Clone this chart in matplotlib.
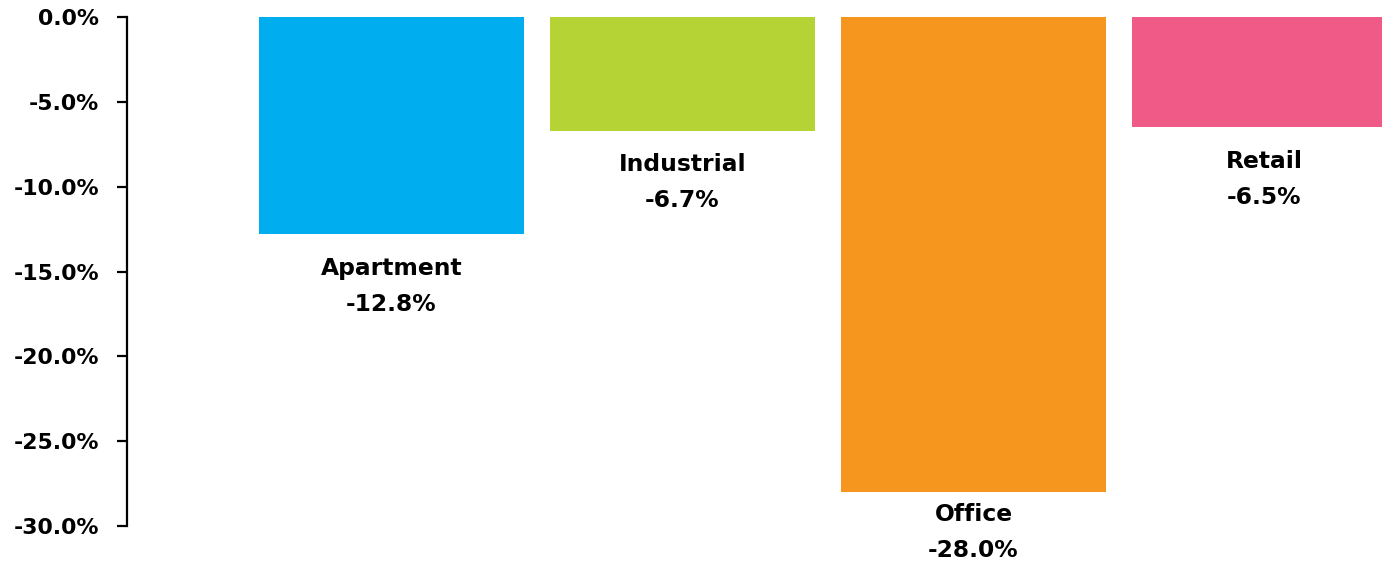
import matplotlib.pyplot as plt
from matplotlib.ticker import FuncFormatter

# Change in value by property sector
sectors = ["Apartment", "Industrial", "Office", "Retail"]
changes = [-12.8, -6.7, -28.0, -6.5]
colors = ["#00AEEF", "#B5D334", "#F7961F", "#EF5A87"]

plt.rcParams['font.family'] = ['DejaVu Sans']
plt.rcParams['font.weight'] = 'bold'

fig = plt.figure(figsize=(13.82, 5.64), dpi=100)
ax = fig.add_axes([127 / 1382, 1 - 526 / 564, 1 - 127 / 1382, (526 - 17) / 564])

x = list(range(len(sectors)))
ax.bar(x, changes, width=265 / 291, color=colors)

ax.set_ylim(-30, 0)
ax.set_xlim(-264.5 / 291, (1382 - 391.5) / 291)
ax.set_yticks([0, -5, -10, -15, -20, -25, -30])
ax.yaxis.set_major_formatter(FuncFormatter(lambda v, p: f"{v:.1f}%"))
ax.set_xticks([])

for side in ("top", "right", "bottom"):
    ax.spines[side].set_visible(False)
ax.spines["left"].set_linewidth(1.6)
ax.tick_params(axis="y", length=7, width=1.6, pad=13, labelsize=15.8)
for lbl in ax.get_yticklabels():
    lbl.set_fontweight("heavy")

# sector name and value under each bar
offsets = {"Office": 22}
for xi, name, val in zip(x, sectors, changes):
    off = offsets.get(name, 34)
    ax.annotate(name, (xi, val), xytext=(0, -off * 0.72), textcoords="offset points",
                ha="center", va="center", fontsize=16.8, fontweight="heavy")
    ax.annotate(f"{val:.1f}%", (xi, val), xytext=(0, -(off + 36) * 0.72),
                textcoords="offset points", ha="center", va="center",
                fontsize=16.8, fontweight="heavy")

fig.savefig("out.png", dpi=100, facecolor="white")
